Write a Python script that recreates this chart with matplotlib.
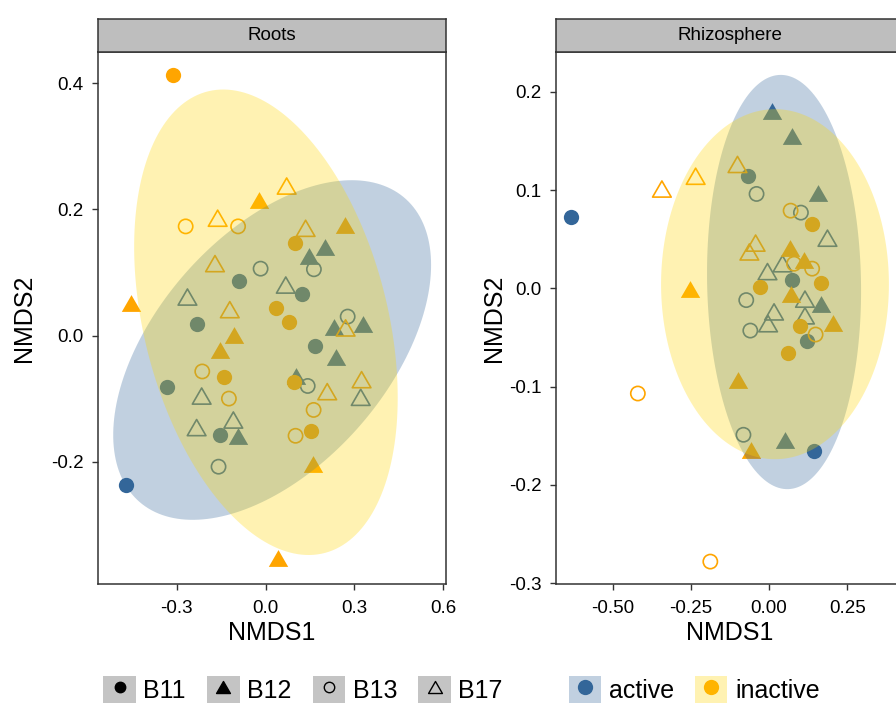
import numpy as np
import matplotlib
matplotlib.use('Agg')
import matplotlib.pyplot as plt
from matplotlib.lines import Line2D
from matplotlib.patches import Patch
from matplotlib.path import Path
from matplotlib.legend_handler import HandlerTuple

plt.rcParams['font.family'] = ['Liberation Sans', 'DejaVu Sans']
plt.rcParams['axes.unicode_minus'] = False

sites = ['B11', 'B12', 'B13', 'B17']
states = ['active', 'inactive']

## Roots NMDS scores
roots_x = [-0.090, 0.124, -0.233, 0.167, -0.332, -0.154, -0.470,
           0.200, 0.147, 0.232, 0.330, 0.236, 0.101, -0.093,
           -0.017, 0.163, 0.277, 0.142, -0.159,
           0.068, -0.264, 0.321, -0.216, -0.109, -0.233,
           -0.314, 0.099, 0.034, 0.080, -0.142, 0.096, 0.152,
           -0.453, -0.023, 0.268, -0.106, -0.153, 0.159, 0.043,
           -0.270, -0.093, -0.214, -0.124, 0.162, 0.101,
           0.071, -0.162, 0.135, -0.171, -0.121, 0.270, 0.208, 0.324]
roots_y = [0.086, 0.066, 0.019, -0.017, -0.081, -0.157, -0.237,
           0.141, 0.126, 0.014, 0.019, -0.034, -0.064, -0.160,
           0.106, 0.105, 0.030, -0.080, -0.208,
           0.080, 0.061, -0.098, -0.096, -0.134, -0.146,
           0.413, 0.147, 0.043, 0.022, -0.066, -0.073, -0.151,
           0.051, 0.215, 0.175, 0.001, -0.023, -0.203, -0.353,
           0.173, 0.173, -0.057, -0.100, -0.118, -0.159,
           0.237, 0.186, 0.170, 0.114, 0.041, 0.012, -0.089, -0.070]
roots_state = ['active']*25 + ['inactive']*28
roots_site = (['B11']*7 + ['B12']*7 + ['B13']*5 + ['B17']*6 +
              ['B11']*7 + ['B12']*7 + ['B13']*6 + ['B17']*8)

## Rhizosphere NMDS scores
rhizo_x = [-0.634, -0.067, 0.074, 0.121, 0.144,
           0.010, 0.075, 0.157, 0.166, 0.050,
           -0.040, 0.102, -0.073, -0.060, -0.082,
           0.187, 0.043, -0.005, 0.115, 0.016, 0.115, -0.003,
           0.139, 0.166, -0.029, 0.100, 0.061,
           0.068, 0.112, 0.070, 0.205, -0.254, -0.100, -0.057,
           0.069, 0.080, 0.138, 0.149, -0.420, -0.188,
           -0.343, -0.235, -0.101, -0.043, -0.063]
rhizo_y = [0.073, 0.114, 0.008, -0.054, -0.165,
           0.180, 0.155, 0.097, -0.016, -0.154,
           0.096, 0.077, -0.012, -0.043, -0.149,
           0.051, 0.025, 0.017, -0.011, -0.024, -0.028, -0.036,
           0.065, 0.005, 0.001, -0.038, -0.066,
           0.041, 0.029, -0.006, -0.035, -0.001, -0.093, -0.164,
           0.079, 0.025, 0.020, -0.047, -0.107, -0.278,
           0.101, 0.114, 0.126, 0.046, 0.037]
rhizo_state = ['active']*22 + ['inactive']*23
rhizo_site = (['B11']*5 + ['B12']*5 + ['B13']*5 + ['B17']*7 +
              ['B11']*5 + ['B12']*7 + ['B13']*6 + ['B17']*5)

## ellipse centre and shape (sxx, sxy, syy), order: active, inactive
roots_ell_c = [(0.022, -0.023), (0.001, 0.021)]
roots_ell_s = [(0.288, 0.0723, 0.0725), (0.198, -0.0532, 0.1362)]
rhizo_ell_c = [(0.048, 0.0064), (0.019, 0.0042)]
rhizo_ell_s = [(0.0608, -0.0022, 0.0444), (0.133, 0.0, 0.0317)]

point_col = {'active': '#336699', 'inactive': '#FFA500'}
fill_col = {'active': '#336699', 'inactive': '#FFD700'}
tri = Path([(0, 0.866), (-1, -0.866), (1, -0.866), (0, 0.866)], closed=True)
marks = {'B11': ('o', True, 121), 'B12': (tri, True, 195),
         'B13': ('o', False, 105), 'B17': (tri, False, 180)}

W, H = 896, 703
fig = plt.figure(figsize=(W/100, H/100), dpi=100)

def px(l, t, r, b):
    return [l/W, 1 - b/H, (r - l)/W, (b - t)/H]

ax1 = fig.add_axes(px(98, 51.7, 446, 584))
ax2 = fig.add_axes(px(556, 51.7, 904, 584))

panels = [(ax1, 'Roots', roots_x, roots_y, roots_state, roots_site, roots_ell_c, roots_ell_s,
           (-0.566, 0.609), (-0.394, 0.450), [-0.3, 0.0, 0.3, 0.6], [-0.2, 0.0, 0.2, 0.4], '%.1f', 10.5),
          (ax2, 'Rhizosphere', rhizo_x, rhizo_y, rhizo_state, rhizo_site, rhizo_ell_c, rhizo_ell_s,
           (-0.682, 0.432), (-0.3008, 0.2407), [-0.5, -0.25, 0.0, 0.25],
           [-0.3, -0.2, -0.1, 0.0, 0.1, 0.2], '%.2f', 2)]

t = np.linspace(0, 2*np.pi, 200)
for ax, title, xs, ys, st, si, ec, es, xl, yl, xt, yt, fmt, ylpad in panels:
    xs = np.array(xs); ys = np.array(ys)
    st = np.array(st); si = np.array(si)
    for s in states:
        for b in sites:
            k = (st == s) & (si == b)
            m, filled, size = marks[b]
            if filled:
                ax.scatter(xs[k], ys[k], marker=m, s=size, color=point_col[s], linewidths=0, zorder=2)
            else:
                ax.scatter(xs[k], ys[k], marker=m, s=size, facecolors='none',
                           edgecolors=point_col[s], linewidths=1.2, zorder=2)
    # ellipses on top, like stat_ellipse
    for i, s in enumerate(states):
        sxx, sxy, syy = es[i]
        L = np.linalg.cholesky(np.array([[sxx, sxy], [sxy, syy]]))
        e = L @ np.vstack([np.cos(t), np.sin(t)])
        ax.fill(ec[i][0] + e[0], ec[i][1] + e[1], color=fill_col[s], alpha=0.3, lw=0, zorder=3)

    ax.set_xlim(xl); ax.set_ylim(yl)
    ax.set_xticks(xt); ax.set_yticks(yt)
    ax.set_xticklabels([fmt % v for v in xt])
    ax.set_yticklabels(['%.1f' % v for v in yt])
    ax.tick_params(labelsize=13.5, length=4, width=1, color='#333333')
    ax.tick_params(axis='x', pad=7.5)
    ax.tick_params(axis='y', pad=6.5)
    for sp in ax.spines.values():
        sp.set_color('#333333'); sp.set_linewidth(1.1)
    ax.set_xlabel('NMDS1', fontsize=18, labelpad=3)
    ax.set_ylabel('NMDS2', fontsize=18, labelpad=ylpad)

    # facet strip
    pos = ax.get_position()
    sax = fig.add_axes([pos.x0, 1 - 51.7/H, pos.width, 33/H])
    sax.set_facecolor('#BEBEBE')
    sax.set_xticks([]); sax.set_yticks([])
    for sp in sax.spines.values():
        sp.set_color('#333333'); sp.set_linewidth(1.1)
    sax.text(0.5, 0.5, title, ha='center', va='center', fontsize=13.5, transform=sax.transAxes)

## legends
hmap = {tuple: HandlerTuple(ndivide=1, pad=0)}
shape_h = []
for b in sites:
    m, filled, size = marks[b]
    ms = 7.5 if m == 'o' else 10
    shape_h.append((Patch(fc='#C4C4C4', ec='none'),
                    Line2D([], [], ls='none', marker=m, ms=ms,
                           mfc='black' if filled else 'none', mec='black', mew=1)))
col_h = []
for s in states:
    col_h.append((Line2D([], [], ls='none', marker='o', ms=11, mfc=point_col[s], mec='none'),
                  Patch(fc=fill_col[s], ec='none', alpha=0.3)))

leg_kw = dict(frameon=False, fontsize=18, handlelength=1.3, handleheight=1.35,
              handletextpad=0.3, columnspacing=0.85, handler_map=hmap, borderpad=0)
fig.legend(shape_h, sites, ncol=4, loc='center', bbox_to_anchor=(303/W, 1 - 690/H), **leg_kw)
fig.legend(col_h, states, ncol=2, loc='center', bbox_to_anchor=(694/W, 1 - 690/H), **leg_kw)

fig.savefig('out.png', dpi=100)
print('Created out.png')
